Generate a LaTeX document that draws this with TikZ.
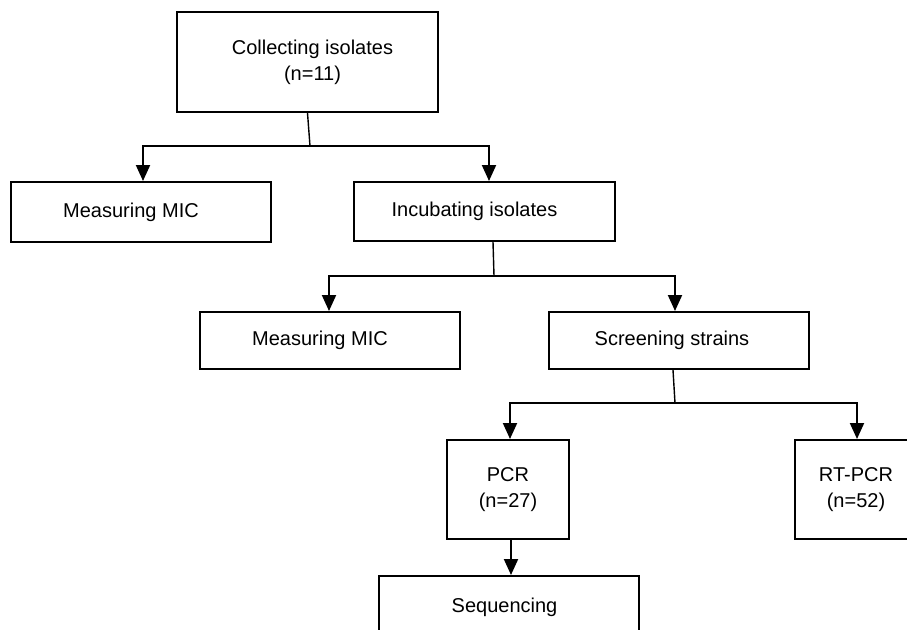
\documentclass[tikz,border=0pt]{standalone}
\usepackage{fontspec}
\setmainfont{Liberation Sans}
\usetikzlibrary{arrows.meta}
\begin{document}
\begin{tikzpicture}[x=1pt,y=-1pt,
  box/.style={draw, line width=2pt, align=center, inner sep=0pt,
    font=\fontsize{20}{26}\selectfont},
  link/.style={line width=2pt},
  stem/.style={line width=1.4pt},
  arr/.style={line width=2pt, -{Triangle[length=16pt,width=14pt]}}]
\useasboundingbox (0,0) rectangle (907,629);
\clip (0,0) rectangle (907,629);
% boxes
\node[box, minimum width=261pt, minimum height=100pt] (collect) at (307.5,62) {Collecting isolates\hspace*{-10pt}\\(n=11)\hspace*{-10pt}};
\node[box, minimum width=260pt, minimum height=60pt] (mic1) at (141,212) {Measuring MIC\hspace*{20pt}};
\node[box, minimum width=261pt, minimum height=59pt] (incub) at (484.5,211.5) {Incubating isolates\hspace*{20pt}};
\node[box, minimum width=260pt, minimum height=57pt] (mic2) at (330,340.5) {Measuring MIC\hspace*{20pt}};
\node[box, minimum width=260pt, minimum height=57pt] (screen) at (679,340.5) {Screening strains\hspace*{14pt}};
\node[box, minimum width=122pt, minimum height=99pt] (pcr) at (508,489.5) {PCR\\(n=27)};
\node[box, minimum width=122pt, minimum height=99pt] (rtpcr) at (856,489.5) {RT-PCR\\(n=52)};
\node[box, minimum width=260pt, minimum height=62pt] (seq) at (509,607) {Sequencing\hspace*{9pt}};
% junctions
\coordinate (j1) at (310,146);
\coordinate (j2) at (494,276);
\coordinate (j3) at (675,403);
% connectors
\draw[stem] (collect.south) -- (j1);
\draw[arr] (j1) -| ([xshift=2pt]mic1.north);
\draw[arr] (j1) -| ([xshift=4.5pt]incub.north);
\draw[stem] ([xshift=8.5pt]incub.south) -- (j2);
\draw[arr] (j2) -| ([xshift=-1pt]mic2.north);
\draw[arr] (j2) -| ([xshift=-4pt]screen.north);
\draw[stem] ([xshift=-6pt]screen.south) -- (j3);
\draw[arr] (j3) -| ([xshift=2pt]pcr.north);
\draw[arr] (j3) -| ([xshift=1pt]rtpcr.north);
\draw[arr] ([xshift=3pt]pcr.south) -- ([xshift=3pt]pcr.south |- seq.north);
\end{tikzpicture}
\end{document}
